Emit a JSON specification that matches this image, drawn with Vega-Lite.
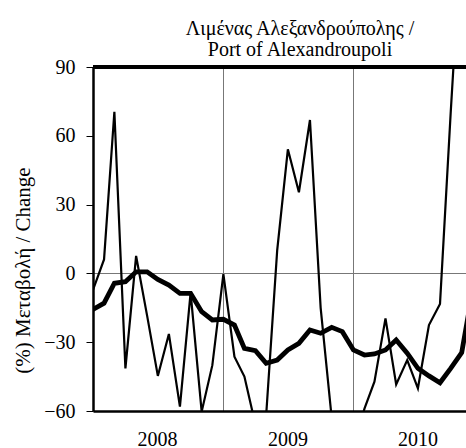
{
  "$schema": "https://vega.github.io/schema/vega-lite/v6.json",
  "width": 373,
  "height": 344,
  "autosize": {"type": "none"},
  "padding": {"left": 93, "top": 67, "right": 0, "bottom": 37},
  "background": "white",
  "config": {"view": {"stroke": null}, "font": "Liberation Serif, Times New Roman, serif"},
  "title": {
    "text": ["Λιμένας Αλεξανδρούπολης /", "Port of Alexandroupoli"],
    "font": "Liberation Serif, Times New Roman, serif",
    "fontSize": 20,
    "fontWeight": "normal",
    "lineHeight": 20.7,
    "offset": 8,
    "dy": 11,
    "dx": 20.5,
    "color": "black"
  },
  "data": {
    "values": [
      {"date": "2008-01-01", "m": -7.2, "a": -15.7},
      {"date": "2008-02-01", "m": 6.1, "a": -13.0},
      {"date": "2008-03-01", "m": 70.5, "a": -4.3},
      {"date": "2008-04-01", "m": -41.4, "a": -3.6},
      {"date": "2008-05-01", "m": 7.6, "a": 0.7},
      {"date": "2008-06-01", "m": -18.5, "a": 0.7},
      {"date": "2008-07-01", "m": -44.7, "a": -2.6},
      {"date": "2008-08-01", "m": -26.4, "a": -5.1},
      {"date": "2008-09-01", "m": -58.1, "a": -8.7},
      {"date": "2008-10-01", "m": -8.4, "a": -8.7},
      {"date": "2008-11-01", "m": -60.3, "a": -16.7},
      {"date": "2008-12-01", "m": -40, "a": -20.3},
      {"date": "2009-01-01", "m": -0.3, "a": -20.0},
      {"date": "2009-02-01", "m": -36.3, "a": -22.5},
      {"date": "2009-03-01", "m": -45, "a": -32.7},
      {"date": "2009-04-01", "m": -66, "a": -33.7},
      {"date": "2009-05-01", "m": -62, "a": -39.2},
      {"date": "2009-06-01", "m": 10, "a": -37.8},
      {"date": "2009-07-01", "m": 54.1, "a": -33.4},
      {"date": "2009-08-01", "m": 35.4, "a": -30.5},
      {"date": "2009-09-01", "m": 66.9, "a": -24.7},
      {"date": "2009-10-01", "m": -15, "a": -26.1},
      {"date": "2009-11-01", "m": -63, "a": -23.5},
      {"date": "2009-12-01", "m": -75, "a": -25.4},
      {"date": "2010-01-01", "m": -75, "a": -33.4},
      {"date": "2010-02-01", "m": -59, "a": -35.6},
      {"date": "2010-03-01", "m": -47.2, "a": -35.1},
      {"date": "2010-04-01", "m": -19.6, "a": -33.4},
      {"date": "2010-05-01", "m": -48.4, "a": -29.0},
      {"date": "2010-06-01", "m": -37.8, "a": -34.8},
      {"date": "2010-07-01", "m": -50.1, "a": -41.4},
      {"date": "2010-08-01", "m": -22.5, "a": -44.7},
      {"date": "2010-09-01", "m": -13.3, "a": -47.7},
      {"date": "2010-10-01", "m": 70, "a": -41.4},
      {"date": "2010-11-01", "m": 150, "a": -34.5},
      {"date": "2010-12-01", "m": 120, "a": -8}
    ]
  },
  "layer": [
    {
      "transform": [{"fold": ["m", "a"], "as": ["series", "value"]}],
      "mark": {"type": "line", "color": "black", "clip": true},
      "encoding": {
        "x": {
          "field": "date",
          "type": "temporal",
          "scale": {
            "type": "utc",
            "domain": [
              {"year": 2008, "month": 1, "date": 1, "utc": true},
              {"year": 2010, "month": 11, "date": 13, "utc": true}
            ]
          },
          "axis": {
            "title": null,
            "values": [
              {"year": 2008, "month": 1, "date": 1, "utc": true},
              {"year": 2009, "month": 1, "date": 1, "utc": true},
              {"year": 2010, "month": 1, "date": 1, "utc": true}
            ],
            "format": "%Y",
            "labelOffset": 64,
            "labelFlush": false,
            "labelBound": false,
            "labelOverlap": false,
            "ticks": false,
            "tickSize": 0,
            "domain": true,
            "domainColor": "black",
            "domainWidth": 2.5,
            "grid": true,
            "gridColor": "#777777",
            "gridWidth": 1,
            "labelFont": "Liberation Serif, Times New Roman, serif",
            "labelFontSize": 20,
            "labelColor": "black",
            "labelPadding": 18
          }
        },
        "y": {
          "field": "value",
          "type": "quantitative",
          "scale": {"domain": [-60, 90], "nice": false, "zero": false},
          "axis": {
            "title": "(%) Μεταβολή / Change",
            "values": [-60, -30, 0, 30, 60, 90],
            "domain": true,
            "domainColor": "black",
            "domainWidth": 2.5,
            "ticks": true,
            "tickSize": 7,
            "tickColor": "black",
            "tickWidth": 1,
            "labelPadding": 11,
            "labelFont": "Liberation Serif, Times New Roman, serif",
            "labelFontSize": 20,
            "labelColor": "black",
            "labelOverlap": false,
            "grid": true,
            "gridColor": "#777777",
            "gridWidth": 1,
            "gridOpacity": {"condition": {"test": "datum.value === 0", "value": 1}, "value": 0},
            "titleFont": "Liberation Serif, Times New Roman, serif",
            "titleFontSize": 21,
            "titleFontWeight": "normal",
            "titleColor": "black",
            "titlePadding": 10,
            "titleY": 203
          }
        },
        "strokeWidth": {
          "field": "series",
          "type": "ordinal",
          "scale": {"domain": ["m", "a"], "range": [2.2, 4.8]},
          "legend": null
        }
      }
    },
    {
      "mark": {"type": "rule", "color": "black", "strokeWidth": 2.5},
      "encoding": {"y": {"datum": 90, "type": "quantitative"}}
    }
  ]
}
